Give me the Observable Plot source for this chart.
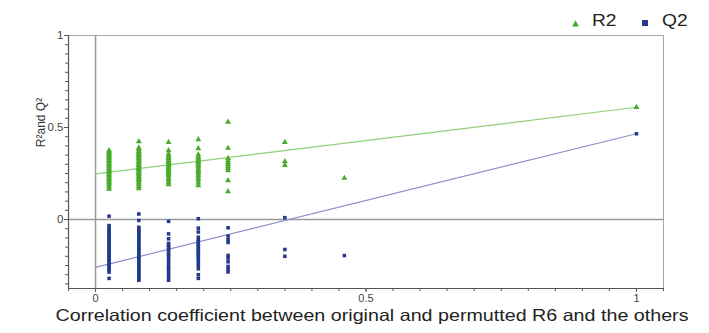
<!DOCTYPE html>
<html><head><meta charset="utf-8">
<script src="https://cdn.jsdelivr.net/npm/d3@7"></script>
<script src="https://cdn.jsdelivr.net/npm/@observablehq/plot@0.6"></script>
<style>
body{margin:0;background:#fff;font-family:"Liberation Sans",Arial,sans-serif;}
#wrap{position:relative;width:709px;height:333px;}
.lg{position:absolute;font-size:16px;color:#222;line-height:16px;transform-origin:left center;transform:scaleX(1.2);}
.sym{position:absolute;line-height:0;}
.sym svg{display:block;}
</style></head><body><div id="wrap"></div>
<script>
// x positions (correlation coefficient) of each permutation column
const columnX = [0.025, 0.08, 0.135, 0.19, 0.245, 0.35, 0.46, 1.0];

// R2 values per column
const r2_1 = [0.375, 0.368, 0.361, 0.352, 0.346, 0.338, 0.331, 0.322, 0.316, 0.307, 0.301, 0.293, 0.286, 0.277, 0.271, 0.262, 0.256, 0.247, 0.241, 0.233, 0.224, 0.218, 0.209, 0.2, 0.19, 0.178, 0.165];
const r2_2 = [0.424, 0.39, 0.381, 0.372, 0.364, 0.356, 0.347, 0.341, 0.332, 0.326, 0.317, 0.31, 0.302, 0.295, 0.287, 0.279, 0.273, 0.264, 0.258, 0.25, 0.243, 0.234, 0.227, 0.219, 0.21, 0.2, 0.19, 0.179, 0.168];
const r2_3 = [0.42, 0.375, 0.356, 0.346, 0.337, 0.331, 0.322, 0.314, 0.308, 0.299, 0.293, 0.285, 0.278, 0.271, 0.262, 0.254, 0.245, 0.236, 0.224, 0.214, 0.201, 0.19];
const r2_4 = [0.435, 0.386, 0.353, 0.341, 0.331, 0.323, 0.314, 0.308, 0.299, 0.291, 0.281, 0.27, 0.262, 0.251, 0.24, 0.228, 0.216, 0.2, 0.185];
const r2_5 = [0.53, 0.388, 0.333, 0.321, 0.31, 0.3, 0.289, 0.279, 0.266, 0.212, 0.152];
const r2_6 = [0.42, 0.315, 0.295];
const r2_7 = [0.225];
const r2_8 = [0.61];

// Q2 values per column
const q2_1 = [0.018, -0.033, -0.044, -0.056, -0.065, -0.074, -0.086, -0.095, -0.104, -0.116, -0.125, -0.134, -0.146, -0.155, -0.164, -0.176, -0.185, -0.194, -0.206, -0.215, -0.224, -0.236, -0.245, -0.254, -0.266, -0.275, -0.286, -0.32];
const q2_2 = [0.03, -0.005, -0.042, -0.051, -0.062, -0.071, -0.082, -0.091, -0.102, -0.111, -0.122, -0.131, -0.142, -0.151, -0.162, -0.171, -0.182, -0.191, -0.202, -0.211, -0.222, -0.231, -0.242, -0.251, -0.262, -0.271, -0.282, -0.291, -0.302, -0.311, -0.322, -0.33];
const q2_3 = [-0.01, -0.078, -0.105, -0.13, -0.141, -0.152, -0.161, -0.176, -0.19, -0.199, -0.214, -0.229, -0.246, -0.259, -0.27, -0.286, -0.3, -0.314, -0.33];
const q2_4 = [0.004, -0.047, -0.068, -0.096, -0.109, -0.121, -0.131, -0.141, -0.15, -0.161, -0.171, -0.179, -0.19, -0.2, -0.211, -0.221, -0.236, -0.25, -0.268, -0.3, -0.32];
const q2_5 = [-0.045, -0.09, -0.11, -0.125, -0.195, -0.21, -0.23, -0.255, -0.27, -0.285];
const q2_6 = [0.01, -0.163, -0.2];
const q2_7 = [-0.196];
const q2_8 = [0.466];

// regression line intercepts at x = 0
const r2Intercept = 0.248;
const q2Intercept = -0.26;

// axis ticks
const xTickLabels = [0, 0.5, 1];
const yTickLabels = [0, 0.5, 1];
const xDomain = [-0.05, 1.05];
const yDomain = [-0.375, 1];
const xLabel = "Correlation coefficient between original and permutted R6 and the others";
const yLabel = "R²and Q²";

const r2Cols = [r2_1, r2_2, r2_3, r2_4, r2_5, r2_6, r2_7, r2_8];
const q2Cols = [q2_1, q2_2, q2_3, q2_4, q2_5, q2_6, q2_7, q2_8];
const r2Data = r2Cols.flatMap((vals, i) => vals.map(v => ({x: columnX[i], y: v})));
const q2Data = q2Cols.flatMap((vals, i) => vals.map(v => ({x: columnX[i], y: v})));
const lastX = columnX[columnX.length - 1];
const r2Line = [{x: 0, y: r2Intercept}, {x: lastX, y: r2_8[0]}];
const q2Line = [{x: 0, y: q2Intercept}, {x: lastX, y: q2_8[0]}];

const xMinor = d3.range(-1, 22).map(i => i * 0.05);
const yMinor = d3.range(-7, 21).map(i => i * 0.05);

const green = "#4aab2c";
const blue = "#22398f";
const axisColor = "#555";

const chart = Plot.plot({
  width: 709, height: 333,
  marginLeft: 68, marginRight: 46, marginTop: 35, marginBottom: 45,
  x: {domain: xDomain},
  y: {domain: yDomain},
  style: {fontFamily: "'Liberation Sans', Arial, sans-serif", fontSize: "11px", color: "#444", background: "white", overflow: "visible"},
  marks: [
    Plot.frame({stroke: "#a8a8a8"}),
    Plot.ruleY([0], {stroke: "#9a9a9a", strokeWidth: 1.5}),
    Plot.ruleX([0], {stroke: "#9a9a9a", strokeWidth: 1.5}),
    Plot.axisX({ticks: xMinor, tickFormat: () => "", tickSize: 3, stroke: axisColor, label: null}),
    Plot.axisX({ticks: xTickLabels, tickSize: 4, tickPadding: 2, tickFormat: d3.format("~g"), stroke: axisColor, label: null}),
    Plot.axisY({ticks: yMinor, tickFormat: () => "", tickSize: 3, stroke: axisColor, label: null}),
    Plot.axisY({ticks: yTickLabels, tickSize: 4, tickPadding: 1, tickFormat: d3.format("~g"), stroke: axisColor, label: null, fontSize: 11.5}),
    Plot.ruleY([yDomain[0]], {stroke: axisColor, strokeWidth: 1.2}),
    Plot.ruleX([xDomain[0]], {stroke: axisColor, strokeWidth: 1.2}),
    Plot.line(r2Line, {x: "x", y: "y", stroke: "#8fcf7c", strokeWidth: 1.2}),
    Plot.line(q2Line, {x: "x", y: "y", stroke: "#8c92cc", strokeWidth: 1.2}),
    Plot.dot(r2Data, {x: "x", y: "y", symbol: "triangle", r: 2.2, fill: green, stroke: "none"}),
    Plot.dot(q2Data, {x: "x", y: "y", symbol: "square", r: 2, fill: blue, stroke: "none"}),
    Plot.text([xLabel], {frameAnchor: "bottom", dx: 6, dy: 32, fontSize: 16.5, fill: "#222", text: d => d}),
    Plot.text([yLabel], {frameAnchor: "top-left", dx: -32, dy: 87, rotate: -90, textAnchor: "middle", fontSize: 12, fill: "#333", text: d => d})
  ]
});

// stretch the x-axis title to the width it has in the reference
d3.select(chart).selectAll("text").filter(function() { return this.textContent === xLabel; })
  .attr("textLength", 633).attr("lengthAdjust", "spacingAndGlyphs");

const wrap = document.getElementById("wrap");
wrap.appendChild(chart);
function add(html, cls, left, top) {
  const el = document.createElement("div");
  el.className = cls; el.innerHTML = html;
  el.style.left = left + "px"; el.style.top = top + "px";
  wrap.appendChild(el);
}
add(`<svg width="7" height="7"><path d="M3.5,0.3L6.9,6.5L0.1,6.5Z" fill="${green}"/></svg>`, "sym", 572, 20);
add("R2", "lg", 592, 13);
add(`<svg width="6" height="6"><rect width="6" height="6" fill="${blue}"/></svg>`, "sym", 642, 20);
add("Q2", "lg", 662, 13);
</script></body></html>
